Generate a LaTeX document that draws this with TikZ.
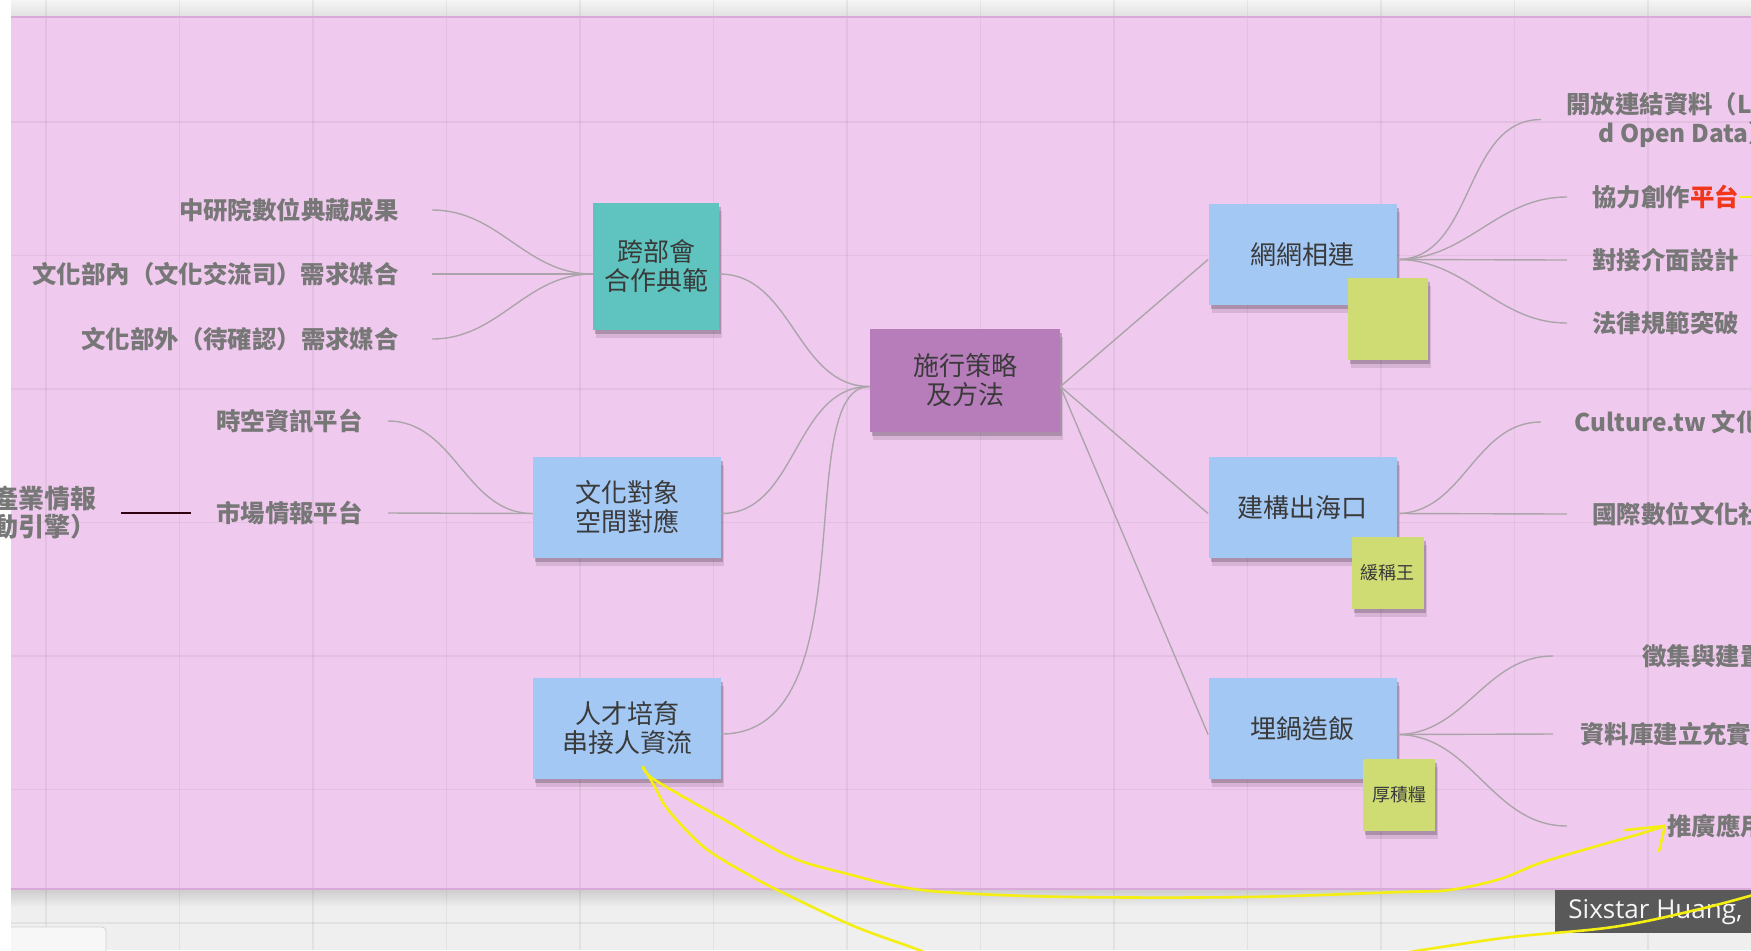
\documentclass[tikz,border=0pt]{standalone}
\usepackage{fontspec}
\setmainfont{Noto Sans CJK TC}
\newfontfamily\tagfont{Open Sans}
\usetikzlibrary{shadows}

\definecolor{boardpink}{HTML}{F0CAEE}
\definecolor{edgepink}{HTML}{D9A9D7}
\definecolor{floorgray}{HTML}{EFEFEF}
\definecolor{notepurple}{HTML}{B77DBB}
\definecolor{noteteal}{HTML}{5FC4BF}
\definecolor{noteblue}{HTML}{A4C8F4}
\definecolor{notelime}{HTML}{CFDC74}
\definecolor{inkgray}{HTML}{3A3A3A}
\definecolor{leafgray}{HTML}{777777}
\definecolor{branchgray}{HTML}{ABA5AB}
\definecolor{hotred}{HTML}{F2361C}
\definecolor{penyellow}{HTML}{F5EE12}
\definecolor{tagdark}{HTML}{595959}
\definecolor{shadowink}{HTML}{4A3A4A}

\begin{document}
\begin{tikzpicture}[x=0.5pt,y=-0.5pt]
    \tikzset{every node/.style={inner sep=0pt},
        postit/.style={minimum width=94pt,minimum height=50.5pt,align=center,fill=noteblue,
            text=inkgray,font=\fontsize{13}{14.5}\selectfont,
            general shadow={fill=shadowink,opacity=.15,shadow yshift=-4pt,shadow xshift=1.5pt},
            general shadow={fill=shadowink,opacity=.3,shadow yshift=-2.2pt,shadow xshift=1pt}},
        tab/.style={postit,fill=notelime,minimum width=36pt,minimum height=36pt,font=\fontsize{9}{11}\selectfont},
        leaf/.style={text=leafgray,font=\bfseries\fontsize{12.2}{14.5}\selectfont,inner xsep=12.5pt},
        branch/.style={draw=branchgray,line width=.7pt},
        pen/.style={draw=penyellow,line width=1.3pt,line cap=round,line join=round}}

    % board and floor
    \useasboundingbox (0,0) rectangle (1751,950);
    \fill[white] (0,0) rectangle (1751,950);
    \shade[top color=black!4,bottom color=black!12] (11,0) rectangle (1751,17);
    \fill[boardpink] (11,17) rectangle (1751,889);
    \fill[floorgray] (11,889) rectangle (1751,950);
    \shade[top color=black!20,bottom color=floorgray] (11,889) rectangle (1751,907);
    \foreach \gx in {0,...,12}
        \draw[black,opacity=.05,line width=.6pt] ({46+133.5*\gx},0) -- ({46+133.5*\gx},950);
    \foreach \gy in {0,...,6}
        \draw[black,opacity=.05,line width=.6pt] (11,{122+133.5*\gy}) -- (1751,{122+133.5*\gy});
    \draw[edgepink,line width=.8pt] (11,17) -- (1751,17);
    \draw[edgepink,line width=.8pt] (11,889) -- (1751,889);
    \draw[fill=black!3,draw=black!18,rounded corners=2pt] (11,927) -- (106,927) -- (106,960) -- (11,960);

    % sticky notes
    \node[postit,fill=notepurple,minimum width=95pt,minimum height=51.5pt] (core) at (965,380.5) {施行策略\\及方法};
    \node[postit,fill=noteteal,minimum width=63pt,minimum height=63.5pt] (coop) at (656,266.5) {跨部會\\合作典範};
    \node[postit] (match) at (627,507.5) {文化對象\\空間對應};
    \node[postit] (talent) at (627,728) {人才培育\\串接人資流};
    \node[postit] (link) at (1302.5,254.5) {網網相連};
    \node[postit] (outlet) at (1302.5,507.5) {建構出海口};
    \node[postit] (stock) at (1302.5,728.5) {埋鍋造飯};
    \node[tab,minimum width=40pt,minimum height=41pt] (blank) at (1388,319) {};
    \node[tab] (king) at (1387.5,573) {緩稱王};
    \node[tab] (grain) at (1399,794.5) {厚積糧};

    % leaves, left
    \node[leaf,anchor=east,inner xsep=16.5pt] (l1) at (432,210) {中研院數位典藏成果};
    \node[leaf,anchor=east,inner xsep=16.5pt] (l2) at (432,274) {文化部內（文化交流司）需求媒合};
    \node[leaf,anchor=east,inner xsep=16.5pt] (l3) at (432,339) {文化部外（待確認）需求媒合};
    \node[leaf,anchor=east] (s1) at (388,421) {時空資訊平台};
    \node[leaf,anchor=east] (s2) at (388,513) {市場情報平台};
    \node[leaf,anchor=east,align=right,inner xsep=12pt,font=\bfseries\fontsize{13}{14}\selectfont] (s0) at (121,513) {產業情報\\（驅動引擎）};

    % leaves, right
    \node[leaf,anchor=west,align=center] (r1) at (1541,119.5) {開放連結資料（Linke\\d Open Data）};
    \node[leaf,anchor=west] (r2) at (1567,197) {協力創作{\color{hotred}平台}};
    \node[leaf,anchor=west] (r3) at (1567,260) {對接介面設計};
    \node[leaf,anchor=west] (r4) at (1567,323) {法律規範突破};
    \node[leaf,anchor=west,inner xsep=16.5pt] (r5) at (1541,422) {Culture.tw 文化};
    \node[leaf,anchor=west] (r6) at (1567,514) {國際數位文化社};
    \node[leaf,anchor=west,inner xsep=44.5pt] (r7) at (1553,656) {徵集與建置};
    \node[leaf,anchor=west,inner xsep=13.5pt] (r8) at (1553,734) {資料庫建立充實};
    \node[leaf,anchor=west,inner xsep=50pt] (r9) at (1567,826) {推廣應用};

    % branches
    \path[branch] ([yshift=-3pt]core.west) edge[out=180,in=0] ([yshift=-3.75pt]coop.east)
        ([yshift=-3pt]core.west) edge[out=180,in=0] ([yshift=-3pt]match.east);
    \draw[branch] ([yshift=-3pt]core.west) .. controls +(-80,0) and +(149,0) .. ([yshift=-3pt]talent.east);
    \path[branch] ([yshift=-3pt]core.east) edge ([yshift=-2.5pt]link.west)
        ([yshift=-3pt]core.east) edge ([yshift=-3pt]outlet.west)
        ([yshift=-3pt]core.east) edge ([yshift=-3pt]stock.west);

    \path[branch] ([yshift=-3.75pt]coop.west) edge[out=180,in=0] (l1.east)
        ([yshift=-3.75pt]coop.west) edge (l2.east)
        ([yshift=-3.75pt]coop.west) edge[out=180,in=0] (l3.east);
    \path[branch] ([yshift=-3pt]match.west) edge[out=180,in=0] (s1.east)
        ([yshift=-3pt]match.west) edge (s2.east);
    \draw[line width=1pt,draw=black!75!purple] (s2.west) -- (s0.east);

    \path[branch] ([yshift=-2.5pt]link.east) edge[out=0,in=180] (r1.west)
        ([yshift=-2.5pt]link.east) edge[out=0,in=180] (r2.west)
        ([yshift=-2.5pt]link.east) edge (r3.west)
        ([yshift=-2.5pt]link.east) edge[out=0,in=180] (r4.west);
    \path[branch] ([yshift=-3pt]outlet.east) edge[out=0,in=180] (r5.west)
        ([yshift=-3pt]outlet.east) edge (r6.west);
    \path[branch] ([yshift=-3pt]stock.east) edge[out=0,in=180] (r7.west)
        ([yshift=-3pt]stock.east) edge (r8.west)
        ([yshift=-3pt]stock.east) edge[out=0,in=180] (r9.west);

    % name tag
    \node[fill=tagdark,text=white!96!black,font=\tagfont\fontsize{13}{15}\selectfont,
        anchor=north west,inner xsep=6.5pt,minimum height=21.5pt] (tag) at (1555,890) {Sixstar Huang,};

    % yellow pen
    \coordinate (nib) at (643,767);
    \draw[pen] plot[smooth,tension=.6] coordinates {(nib) (655,787) (666,807) (689,833) (712,853) (758,880) (798,900) (856,927) (919,950) (935,958)};
    \draw[pen] plot[smooth,tension=.6] coordinates {(nib) (652,778) (689,800) (730,823) (758,840) (798,860) (844,873) (902,887) (959,893) (1074,897) (1246,897) (1400,892) (1449,890) (1500,879) (1540,863) (1597,846) (1636,835) (1665,826)};
    \draw[pen] (1625,830) -- (1665,826) -- (1659,851);
    \draw[pen] plot[smooth,tension=.6] coordinates {(1385,956) (1503,938) (1613,927) (1700,909) (1760,893)};
    \draw[pen] (1740,197) -- (1756,197);
\end{tikzpicture}
\end{document}
